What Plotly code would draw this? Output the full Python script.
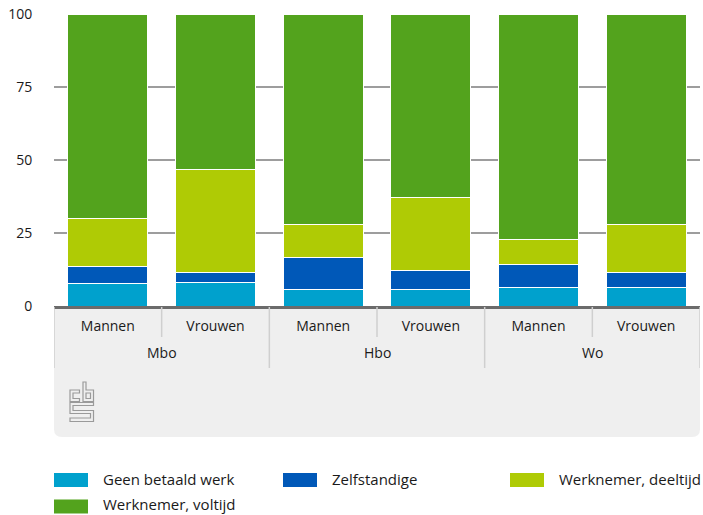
import plotly.graph_objects as go

# ---- data ----
opleiding = ["Mbo", "Mbo", "Hbo", "Hbo", "Wo", "Wo"]
geslacht = ["Mannen", "Vrouwen", "Mannen", "Vrouwen", "Mannen", "Vrouwen"]
groepen = ["Mbo", "Hbo", "Wo"]
series_names = ["Geen betaald werk", "Zelfstandige", "Werknemer, deeltijd", "Werknemer, voltijd"]
geen_betaald_werk = [7.8, 8.2, 5.8, 5.8, 6.3, 6.3]
zelfstandige = [5.9, 3.2, 10.7, 6.5, 7.8, 5.1]
werknemer_deeltijd = [16.4, 35.4, 11.3, 24.8, 8.7, 16.4]
werknemer_voltijd = [69.9, 53.2, 72.2, 62.9, 77.2, 72.2]
y_ticks = [0, 25, 50, 75, 100]

colors = ["#00a1cd", "#0058b8", "#afcb05", "#53a31d"]
values = [geen_betaald_werk, zelfstandige, werknemer_deeltijd, werknemer_voltijd]
categories = [f"{o} {g}" for o, g in zip(opleiding, geslacht)]

W, H = 703, 515
ML, MR, MT, MB = 54, 3, 14, 209
PW, PH = W - ML - MR, H - MT - MB
FONT = "Open Sans"
TXT = "#1a1a1a"
SEP = "#cfcfcf"


def px(xp):
    return (xp - ML) / PW


def py(yp):
    return (H - MB - yp) / PH


fig = go.Figure()
for name, vals, col in zip(series_names, values, colors):
    fig.add_trace(go.Bar(
        x=categories, y=vals, name=name,
        marker=dict(color=col, line=dict(color="white", width=1)),
        showlegend=False,
    ))

shapes = []
annotations = []
# grey label box with rounded bottom corners
r = 8
x0, x1 = px(ML), px(W - MR)
yt, yb = py(H - MB), py(437)
rx, ry = r / PW, r / PH
path = (f"M {x0},{yt} L {x1},{yt} L {x1},{yb + ry} Q {x1},{yb} {x1 - rx},{yb} "
        f"L {x0 + rx},{yb} Q {x0},{yb} {x0},{yb + ry} Z")
shapes.append(dict(type="path", xref="paper", yref="paper", path=path,
                   fillcolor="#efefef", line=dict(width=0), layer="below"))

# separators between categories (inner) and between groups (outer)
n = len(categories)
for i in range(n + 1):
    b = i - 0.5
    left = opleiding[i - 1] if i > 0 else None
    right = opleiding[i] if i < n else None
    outer = left != right
    shapes.append(dict(type="line", xref="x", yref="paper", x0=b, x1=b,
                       y0=py(H - MB + 1), y1=py(368 if outer else 337),
                       line=dict(color=SEP, width=1.5), layer="above"))

# group labels
for grp in groepen:
    idx = [i for i, o in enumerate(opleiding) if o == grp]
    annotations.append(dict(xref="x", yref="paper", x=sum(idx) / len(idx), y=py(352),
                            text=grp, showarrow=False, xanchor="center", yanchor="middle",
                            font=dict(family=FONT, size=14, color=TXT)))


def logo_path(pts_list):
    parts = []
    for pts in pts_list:
        s = "M " + " L ".join(f"{px(a):.5f},{py(b):.5f}" for a, b in pts) + " Z"
        parts.append(s)
    return " ".join(parts)


# CBS logo (outlined letters)
c_pts = [(79.5, 390), (70, 390), (70, 401.5), (79.5, 401.5), (79.5, 398.5), (73, 398.5), (73, 393), (79.5, 393)]
b_outer = [(83, 382), (86, 382), (86, 390), (93.5, 390), (93.5, 401.5), (83, 401.5)]
b_inner = [(86, 393), (90.5, 393), (90.5, 398.5), (86, 398.5)]
s_pts = [(93.5, 402.5), (70, 402.5), (70, 413.5), (90.5, 413.5), (90.5, 418), (70, 418), (70, 421.5),
         (93.5, 421.5), (93.5, 410.5), (73, 410.5), (73, 405.5), (93.5, 405.5)]
for pl in ([c_pts], [b_outer, b_inner], [s_pts]):
    shapes.append(dict(type="path", xref="paper", yref="paper", path=logo_path(pl),
                       fillcolor="rgba(0,0,0,0)", line=dict(color="#9a9a9a", width=1.2)))

# manual legend (swatch centre y, text centre y)
leg_pos = [(54, 480, 479), (283, 480, 479), (510, 480, 479), (54, 506.5, 504)]
for (lx, sy, ty), name, col in zip(leg_pos, series_names, colors):
    shapes.append(dict(type="rect", xref="paper", yref="paper",
                       x0=px(lx), x1=px(lx + 34), y0=py(sy - 7), y1=py(sy + 7),
                       fillcolor=col, line=dict(width=0)))
    annotations.append(dict(xref="paper", yref="paper", x=px(lx + 47), y=py(ty),
                            text=name, showarrow=False, xanchor="left", yanchor="middle",
                            font=dict(family=FONT, size=15, color=TXT)))

fig.update_layout(
    width=W, height=H,
    margin=dict(l=ML, r=MR, t=MT, b=MB, pad=0),
    barmode="stack", bargap=0.257,
    plot_bgcolor="white", paper_bgcolor="white",
    font=dict(family=FONT, size=14, color=TXT),
    shapes=shapes, annotations=annotations,
    showlegend=False,
)
fig.update_xaxes(
    type="category", categoryorder="array", categoryarray=categories,
    range=[-0.5, n - 0.5],
    tickvals=categories, ticktext=geslacht,
    showline=True, linecolor="#6b6b6b", linewidth=2.5,
    ticks="", ticklabelstandoff=5,
    showgrid=False, tickfont=dict(family=FONT, size=14, color=TXT),
)
fig.update_yaxes(
    range=[0, 100], tickvals=y_ticks, ticktext=[str(v) for v in y_ticks],
    showgrid=True, gridcolor="#9d9d9d", gridwidth=1.5,
    zeroline=False, showline=False,
    ticks="outside", ticklen=18, tickcolor="rgba(0,0,0,0)",
    tickfont=dict(family=FONT, size=14, color=TXT),
)

fig.write_html("out.html", config={"displayModeBar": False},
               post_script="document.body.style.margin='0';document.body.style.padding='0';")
